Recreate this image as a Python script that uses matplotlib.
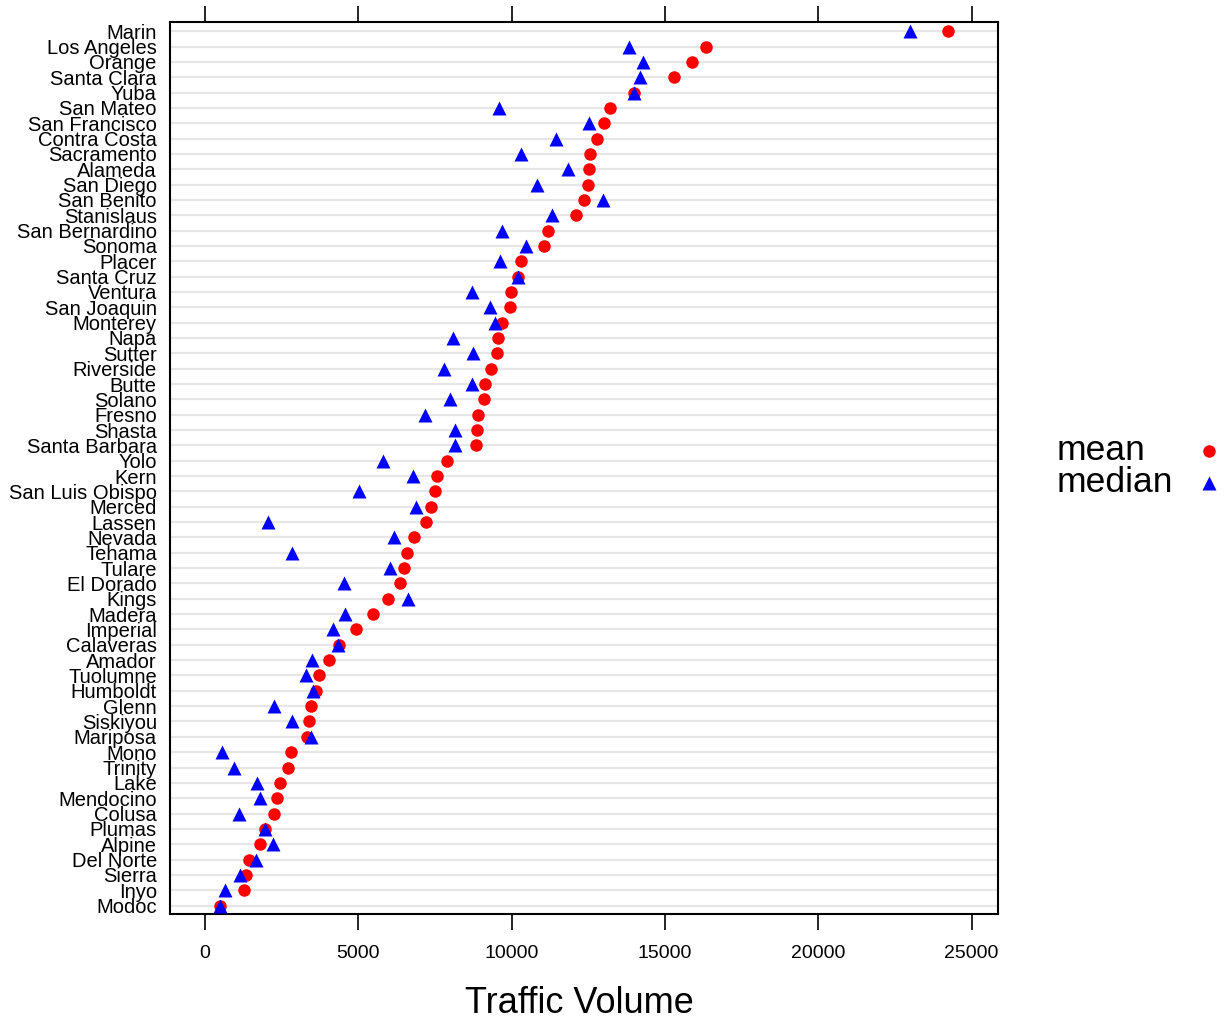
import matplotlib
matplotlib.use("Agg")
import matplotlib.pyplot as plt
from matplotlib.lines import Line2D

# County traffic volume summaries, ordered top to bottom as plotted
counties = [
    "Marin", "Los Angeles", "Orange", "Santa Clara", "Yuba", "San Mateo",
    "San Francisco", "Contra Costa", "Sacramento", "Alameda", "San Diego",
    "San Benito", "Stanislaus", "San Bernardino", "Sonoma", "Placer",
    "Santa Cruz", "Ventura", "San Joaquin", "Monterey", "Napa", "Sutter",
    "Riverside", "Butte", "Solano", "Fresno", "Shasta", "Santa Barbara",
    "Yolo", "Kern", "San Luis Obispo", "Merced", "Lassen", "Nevada",
    "Tehama", "Tulare", "El Dorado", "Kings", "Madera", "Imperial",
    "Calaveras", "Amador", "Tuolumne", "Humboldt", "Glenn", "Siskiyou",
    "Mariposa", "Mono", "Trinity", "Lake", "Mendocino", "Colusa", "Plumas",
    "Alpine", "Del Norte", "Sierra", "Inyo", "Modoc",
]

mean_volume = [
    24230, 16340, 15880, 15300, 13990, 13210, 13010, 12790, 12560, 12520,
    12490, 12360, 12100, 11190, 11060, 10310, 10210, 9980, 9950, 9690,
    9560, 9520, 9330, 9130, 9100, 8900, 8870, 8840, 7890, 7570, 7500,
    7370, 7210, 6820, 6590, 6490, 6360, 5970, 5480, 4930, 4370, 4040,
    3720, 3620, 3460, 3390, 3330, 2810, 2710, 2450, 2350, 2250, 1960,
    1790, 1440, 1340, 1270, 490,
]

median_volume = [
    22990, 13830, 14290, 14190, 13990, 9590, 12520, 11450, 10310, 11840,
    10830, 12980, 11320, 9690, 10470, 9620, 10210, 8710, 9300, 9460,
    8090, 8740, 7800, 8710, 7990, 7180, 8150, 8150, 5810, 6780, 5020,
    6880, 2060, 6160, 2840, 6030, 4530, 6620, 4570, 4180, 4340, 3490,
    3290, 3520, 2250, 2840, 3460, 550, 950, 1700, 1790, 1110, 1960,
    2220, 1660, 1140, 650, 490,
]

x_ticks = [0, 5000, 10000, 15000, 20000, 25000]

plt.rcParams["font.family"] = ["Liberation Sans", "DejaVu Sans"]

W, H = 1225, 1024
fig = plt.figure(figsize=(W / 100, H / 100), dpi=100)
ax = fig.add_axes([170 / W, 1 - 914 / H, (998 - 170) / W, (914 - 22) / H])

n = len(counties)
ypos = [n - 1 - i for i in range(n)]

# light reference lines for each county row
for y in ypos:
    ax.axhline(y, color="#e6e6e6", lw=1.6, zorder=0)

ax.plot(mean_volume, ypos, "o", color="#ff0000", ms=9, mec="none", zorder=3)
ax.plot(median_volume, ypos, "^", color="#0000ff", ms=10, mec="none", zorder=4)

ax.set_xlim(-1140, 25860)
ax.set_ylim(-0.55, 57.6)
ax.set_yticks(ypos)
ax.set_yticklabels(counties, fontsize=14.5)
ax.set_xticks(x_ticks)
ax.set_xticklabels([str(t) for t in x_ticks], fontsize=14)
ax.tick_params(axis="y", length=0, pad=9.5)
ax.tick_params(axis="x", which="both", direction="out", length=11.5, width=1.2,
               top=True, labeltop=False, pad=11, color="black")
for s in ax.spines.values():
    s.set_linewidth(1.5)

fig.text(579 / W, 1 - 1013 / H, "Traffic Volume", fontsize=26,
         ha="center", va="baseline")

# legend on the right, text first then symbol
legend_labels = ["mean", "median"]
legend_y = [451, 483]
fig.text(1057 / W, 1 - legend_y[0] / H, legend_labels[0], fontsize=25.5,
         ha="left", va="center")
fig.text(1057 / W, 1 - legend_y[1] / H, legend_labels[1], fontsize=25.5,
         ha="left", va="center")
fig.add_artist(Line2D([1209 / W], [1 - legend_y[0] / H], ls="none", marker="o",
                      color="#ff0000", ms=9, mec="none"))
fig.add_artist(Line2D([1209 / W], [1 - legend_y[1] / H], ls="none", marker="^",
                      color="#0000ff", ms=10, mec="none"))

fig.savefig("out.png", dpi=100)
